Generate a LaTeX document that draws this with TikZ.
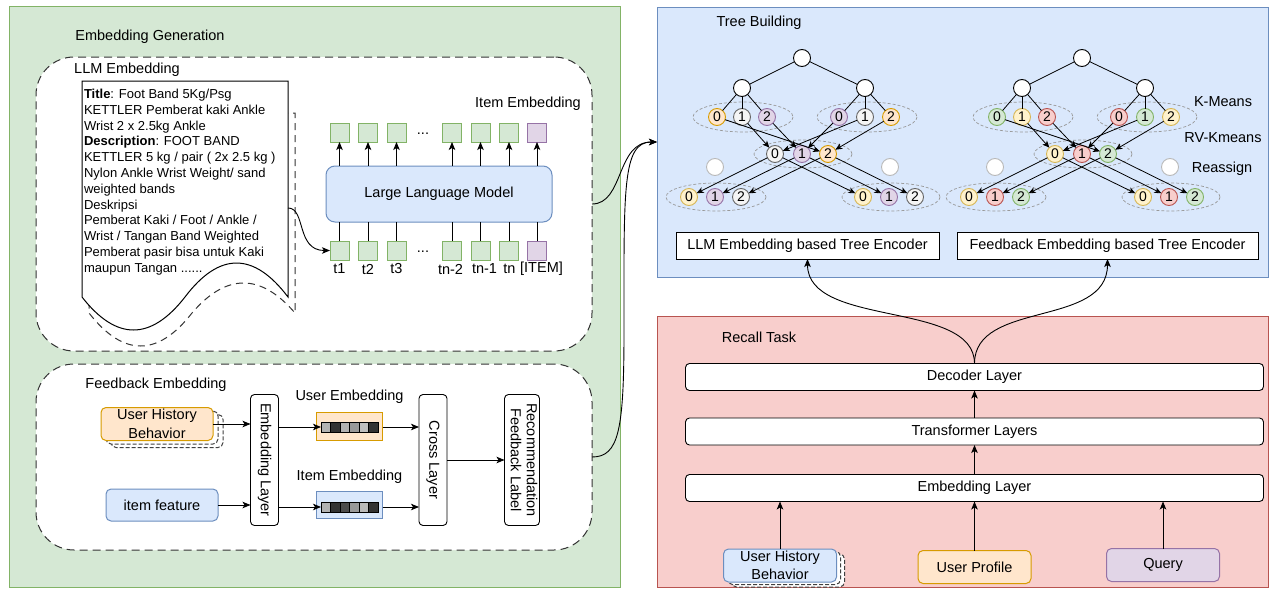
\documentclass[tikz,border=0pt]{standalone}
\usepackage{fontspec}
\setmainfont{Liberation Sans}
\usepackage{graphicx}
\usetikzlibrary{arrows.meta,calc}
\definecolor{gfill}{HTML}{D5E8D4}\definecolor{gline}{HTML}{82B366}
\definecolor{bfill}{HTML}{DAE8FC}\definecolor{bline}{HTML}{6C8EBF}
\definecolor{rfill}{HTML}{F8CECC}\definecolor{rline}{HTML}{B85450}
\definecolor{ofill}{HTML}{FFE6CC}\definecolor{oline}{HTML}{D79B00}
\definecolor{pfill}{HTML}{E1D5E7}\definecolor{pline}{HTML}{9673A6}
\definecolor{yfill}{HTML}{FFF2CC}\definecolor{yline}{HTML}{D6B656}
\definecolor{kfill}{HTML}{F5F5F5}\definecolor{kline}{HTML}{666666}
\begin{document}
\begin{tikzpicture}[x=1pt,y=-1pt,
  font=\fontsize{14.5}{17.4}\selectfont,
  every node/.style={inner sep=0pt, outer sep=0pt},
  arr/.style={draw=black, line width=0.9pt, -{Stealth[length=8pt,width=6.5pt,inset=2pt]}},
  tarr/.style={draw=black, line width=0.8pt, -{Stealth[length=7pt,width=6pt,inset=2pt]}},
  ln/.style={draw=black, line width=0.9pt},
  dbox/.style={draw=black!80, dash pattern=on 8pt off 5pt, line width=1pt, fill=white, rounded corners=38pt},
  tok/.style={draw=gline, fill=gfill, line width=1pt, minimum size=19pt},
  tokp/.style={tok, draw=pline, fill=pfill},
  layer/.style={draw=black, fill=white, rounded corners=4pt, line width=0.9pt},
  rbox/.style={rounded corners=5pt, line width=1pt, minimum width=112pt, minimum height=33pt, align=center, font=\fontsize{14.5}{18.5}\selectfont},
  stackbox/.style={rbox, draw=black!75, dash pattern=on 4pt off 2pt, fill=white},
  cn/.style={circle, minimum size=17pt, line width=0.9pt, draw=black, fill=white, font=\fontsize{14}{16}\selectfont},
  cw/.style={cn, draw=gray!55},
  cO/.style={cn, draw=oline, fill=ofill},
  cK/.style={cn, draw=kline, fill=kfill},
  cP/.style={cn, draw=pline, fill=pfill},
  cY/.style={cn, draw=yline, fill=yfill},
  cGr/.style={cn, draw=gline, fill=gfill},
  cR/.style={cn, draw=rline, fill=rfill},
  cl/.style={draw=gray!80, dash pattern=on 3pt off 2pt, line width=0.7pt},
  embox/.style={line width=1pt, minimum width=66pt, minimum height=28pt},
  bar/.style={draw=black, line width=0.8pt, minimum width=57pt, minimum height=10pt}
]
\useasboundingbox (0,0) rectangle (1269,589);
\fill[white] (0,0) rectangle (1269,589);

% ---------- panels ----------
\node[draw=gline, fill=gfill, line width=1pt, minimum width=611pt, minimum height=581pt] (gen) at (314.5,296.5) {};
\node[draw=bline, fill=bfill, line width=1pt, minimum width=611pt, minimum height=270pt] (tree) at (962.5,142) {};
\node[draw=rline, fill=rfill, line width=1pt, minimum width=611pt, minimum height=271pt] (recall) at (962.5,451.5) {};
\node (gentitle) at (150,37) {Embedding Generation};
\node (treetitle) at (759,23) {Tree Building};
\node (recalltitle) at (759,337) {Recall Task};

% ---------- LLM embedding ----------
\node[dbox, minimum width=556pt, minimum height=294pt] (llmbox) at (314,204) {};
\node (llmtitle) at (127,70) {LLM Embedding};

% document (shadow + front)
\draw[draw=black!80, dash pattern=on 7pt off 5pt, line width=1pt, fill=white]
  (89,113) -- (295,113) -- (295,313)
  .. controls (260.7,273) and (226.3,273) .. (192,313)
  .. controls (157.7,357) and (123.3,357) .. (89,313) -- cycle;
\draw[draw=black, line width=1pt, fill=white]
  (82,81) -- (288,81) -- (288,297)
  .. controls (253.7,251.7) and (219.3,251.7) .. (185,297)
  .. controls (150.7,341) and (116.3,341) .. (82,297) -- cycle;
\node[anchor=north west, align=left, font=\fontsize{13}{15.8}\selectfont] (doctext) at (84,89) {%
\textbf{Title}: Foot Band 5Kg/Psg\\
KETTLER Pemberat kaki Ankle\\
Wrist 2 x 2.5kg Ankle\\
\textbf{Description}: FOOT BAND\\
KETTLER 5 kg / pair ( 2x 2.5 kg )\\
Nylon Ankle Wrist Weight/ sand\\
weighted bands\\
Deskripsi\\
Pemberat Kaki / Foot / Ankle /\\
Wrist / Tangan Band Weighted\\
Pemberat pasir bisa untuk Kaki\\
maupun Tangan ......};
\coordinate (docout) at (288,208);

% LLM and tokens
\node[draw=bline, fill=bfill, rounded corners=9pt, line width=1pt, minimum width=226pt, minimum height=56pt] (llm) at (439,194) {Large Language Model};
\node[tok]  (o1) at (339.5,132.5) {};
\node[tok]  (o2) at (368,132.5) {};
\node[tok]  (o3) at (396.5,132.5) {};
\node[tok]  (o4) at (452,132.5) {};
\node[tok]  (o5) at (480.5,132.5) {};
\node[tok]  (o6) at (509,132.5) {};
\node[tokp] (o7) at (537,132.5) {};
\node[tok]  (i1) at (339.5,250.5) {};
\node[tok]  (i2) at (368,250.5) {};
\node[tok]  (i3) at (396.5,250.5) {};
\node[tok]  (i4) at (452,250.5) {};
\node[tok]  (i5) at (480.5,250.5) {};
\node[tok]  (i6) at (509,250.5) {};
\node[tokp] (i7) at (537,250.5) {};
\node (dotsA) at (423,134) {...};
\node (dotsB) at (423,252) {...};
\foreach \k in {1,...,7} {
  \draw[arr] (o\k |- llm.north) -- (o\k.south);
  \draw[ln] (i\k.north) -- (i\k |- llm.south);
}
\node (t1) at (339.5,269) {t1};
\node (t2) at (368,269) {t2};
\node (t3) at (396.5,269) {t3};
\node (t4) at (450.5,269) {tn-2};
\node (t5) at (484.5,269) {tn-1};
\node (t6) at (509.5,269) {tn};
\node (t7) at (541.5,269) {[ITEM]};
\node (itemembA) at (528,104) {Item Embedding};
\draw[arr] (docout) .. controls (306,208) and (296,250.5) .. (i1.west);

% ---------- Feedback embedding ----------
\node[dbox, minimum width=556pt, minimum height=186pt] (fbbox) at (314,457) {};
\node (fbtitle) at (156,385) {Feedback Embedding};

\node[stackbox] (uhbs2) at (167,431) {};
\node[stackbox] (uhbs1) at (162,427.5) {};
\node[rbox, draw=oline, fill=ofill] (uhb) at (157,424) {User History\\Behavior};
\node[rbox, draw=bline, fill=bfill, minimum height=32pt] (ifeat) at (162,505) {item feature};

\node[layer, minimum width=28pt, minimum height=131pt] (embl) at (264.5,460) {\rotatebox{-90}{Embedding Layer}};
\node[layer, minimum width=28pt, minimum height=131pt] (cross) at (433,460) {\rotatebox{-90}{Cross Layer}};
\node[layer, minimum width=35pt, minimum height=131pt] (rfl) at (522,460) {\rotatebox{-90}{\def\arraystretch{0.92}\begin{tabular}{@{}c@{}}Recommendation\\Feedback Label\end{tabular}}};

\node[embox, draw=oline, fill=ofill] (uemb) at (349.5,426) {};
\node[embox, draw=bline, fill=bfill, minimum height=27pt] (iemb) at (349.5,505) {};
\foreach \g [count=\i from 0] in {30,80,30,40,25,80} {
  \fill[black!\g] (321+\i*9.5,422) rectangle ++(9.5,10);
}
\foreach \g [count=\i from 0] in {30,80,70,40,27,80} {
  \fill[black!\g] (321+\i*9.5,502) rectangle ++(9.5,10);
}
\foreach \i in {1,...,5} {
  \draw[line width=0.6pt] (321+\i*9.5,422) -- ++(0,10);
  \draw[line width=0.6pt] (321+\i*9.5,502) -- ++(0,10);
}
\node[bar] (ubar) at (349.5,427) {};
\node[bar] (ibar) at (349.5,507) {};
\node (uemblabel) at (349.5,397) {User Embedding};
\node (iemblabel) at (349.5,477) {Item Embedding};

\draw[arr] (uhb.east) -- (uhb.east -| embl.west);
\draw[arr] (ifeat.east) -- (ifeat.east -| embl.west);
\draw[arr] (ubar.west -| embl.east) -- (ubar.west);
\draw[arr] (ibar.west -| embl.east) -- (ibar.west);
\draw[arr] (ubar.west -| uemb.east) -- (ubar.west -| cross.west);
\draw[arr] (ibar.west -| iemb.east) -- (ibar.west -| cross.west);
\draw[arr] (cross.east) -- (rfl.west);

% ---------- connectors to tree building ----------
\coordinate (treein) at (657,142);
\draw[arr] (llmbox.east) .. controls (624,204) and (616,142) .. (treein);
\draw[arr] (fbbox.east) .. controls (619,457) and (624,430) .. (624,330)
  .. controls (624,190) and (622,142) .. (treein);

% ---------- trees ----------
\draw[cl] (743,117) ellipse [x radius=50, y radius=15];
\draw[cl] (867,117) ellipse [x radius=50, y radius=15];
\draw[cl] (803,154) ellipse [x radius=49, y radius=14];
\draw[cl] (716,197) ellipse [x radius=50, y radius=14];
\draw[cl] (891,197) ellipse [x radius=49, y radius=14];
\draw[cl] (1023,117) ellipse [x radius=50, y radius=15];
\draw[cl] (1147,117) ellipse [x radius=50, y radius=15];
\draw[cl] (1083,154) ellipse [x radius=49, y radius=14];
\draw[cl] (996,197) ellipse [x radius=50, y radius=14];
\draw[cl] (1171,197) ellipse [x radius=49, y radius=14];

\node[cn] (L-root) at (802,58) {};
\node[cn] (L-a) at (742,88) {};
\node[cn] (L-b) at (865,88) {};
\node[cO] (L-l0) at (717,117) {0};
\node[cK] (L-l1) at (742,117) {1};
\node[cP] (L-l2) at (767,117) {2};
\node[cP] (L-r0) at (839,117) {0};
\node[cK] (L-r1) at (865,117) {1};
\node[cO] (L-r2) at (891,117) {2};
\node[cK] (L-m0) at (775,154) {0};
\node[cP] (L-m1) at (802,154) {1};
\node[cO] (L-m2) at (828,154) {2};
\node[cw] (L-w1) at (715,167) {};
\node[cw] (L-w2) at (890,167) {};
\node[cY] (L-b0) at (689,197) {0};
\node[cP] (L-b1) at (715,197) {1};
\node[cK] (L-b2) at (741,197) {2};
\node[cY] (L-c0) at (863,197) {0};
\node[cP] (L-c1) at (889,197) {1};
\node[cK] (L-c2) at (915,197) {2};

\node[cn] (R-root) at (1082,58) {};
\node[cn] (R-a) at (1022,88) {};
\node[cn] (R-b) at (1145,88) {};
\node[cGr] (R-l0) at (997,117) {0};
\node[cY] (R-l1) at (1022,117) {1};
\node[cR] (R-l2) at (1047,117) {2};
\node[cR] (R-r0) at (1119,117) {0};
\node[cGr] (R-r1) at (1145,117) {1};
\node[cY] (R-r2) at (1171,117) {2};
\node[cY] (R-m0) at (1055,154) {0};
\node[cR] (R-m1) at (1082,154) {1};
\node[cGr] (R-m2) at (1108,154) {2};
\node[cw] (R-w1) at (995,167) {};
\node[cw] (R-w2) at (1170,167) {};
\node[cY] (R-b0) at (969,197) {0};
\node[cR] (R-b1) at (995,197) {1};
\node[cGr] (R-b2) at (1021,197) {2};
\node[cY] (R-c0) at (1143,197) {0};
\node[cR] (R-c1) at (1169,197) {1};
\node[cGr] (R-c2) at (1195,197) {2};

\foreach \t in {L,R} {
  \draw[line width=0.8pt] (\t-root) -- (\t-a);
  \draw[line width=0.8pt] (\t-root) -- (\t-b);
  \foreach \j in {0,1,2} {
    \draw[line width=0.8pt] (\t-a) -- (\t-l\j);
    \draw[line width=0.8pt] (\t-b) -- (\t-r\j);
    \draw[tarr] (\t-m\j) -- (\t-b\j);
    \draw[tarr] (\t-m\j) -- (\t-c\j);
  }
  \draw[tarr] (\t-l0) -- (\t-m2);
  \draw[tarr] (\t-l1) -- (\t-m0);
  \draw[tarr] (\t-l2) -- (\t-m1);
  \draw[tarr] (\t-r0) -- (\t-m1);
  \draw[tarr] (\t-r1) -- (\t-m0);
  \draw[tarr] (\t-r2) -- (\t-m2);
}
\node (kmeans) at (1223,102) {K-Means};
\node (rvk) at (1223,138) {RV-Kmeans};
\node (reassign) at (1222,169) {Reassign};

\node[draw=black, fill=white, line width=0.9pt, minimum width=263pt, minimum height=27pt] (enc1) at (807.5,245.5) {LLM Embedding based Tree Encoder};
\node[draw=black, fill=white, line width=0.9pt, minimum width=301pt, minimum height=27pt] (enc2) at (1107.5,245.5) {Feedback Embedding based Tree Encoder};

% ---------- recall task ----------
\node[layer, minimum width=578pt, minimum height=27pt] (dec) at (974.5,377) {Decoder Layer};
\node[layer, minimum width=578pt, minimum height=27pt] (trf) at (974.5,431.5) {Transformer Layers};
\node[layer, minimum width=578pt, minimum height=27pt] (remb) at (974.5,488) {Embedding Layer};
\draw[arr] (trf.north) -- (dec.south);
\draw[arr] (remb.north) -- (trf.south);

\node[stackbox, minimum width=113pt] (ruhbs2) at (788,570.5) {};
\node[stackbox, minimum width=113pt] (ruhbs1) at (784,568) {};
\node[rbox, draw=bline, fill=bfill, minimum width=113pt] (ruhb) at (780,565.5) {User History\\Behavior};
\node[rbox, draw=oline, fill=ofill, minimum width=113pt] (uprof) at (974.5,567) {User Profile};
\node[rbox, draw=pline, fill=pfill, minimum width=113pt] (query) at (1163,565) {Query};
\draw[arr] (ruhb.north) -- (ruhb.north |- remb.south);
\draw[arr] (uprof.north) -- (uprof.north |- remb.south);
\draw[arr] (query.north) -- (query.north |- remb.south);

\draw[arr] (dec.north) .. controls (974.5,300) and (807.5,328) .. (enc1.south);
\draw[arr] (dec.north) .. controls (974.5,300) and (1107.5,328) .. (enc2.south);
\end{tikzpicture}
\end{document}
